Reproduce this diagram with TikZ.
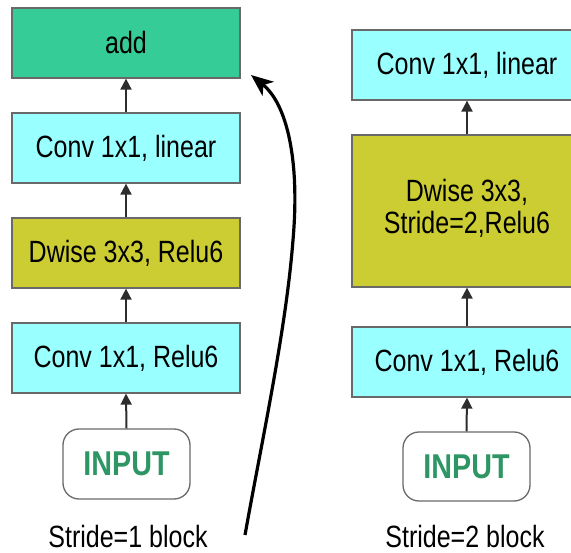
\documentclass[tikz,border=0pt]{standalone}
\usepackage{fontspec}
\usepackage{graphicx}
\setmainfont{Liberation Sans}
\usetikzlibrary{arrows.meta}
\definecolor{addgreen}{RGB}{54,204,152}
\definecolor{cyanbox}{RGB}{153,255,255}
\definecolor{olivebox}{RGB}{204,204,51}
\definecolor{inputgreen}{RGB}{46,150,100}
\definecolor{bordergrey}{RGB}{105,105,105}
\definecolor{arrowgrey}{RGB}{45,45,45}
\newcommand{\tallt}[1]{\scalebox{1}[1.23]{#1}}
\newcommand{\talli}[1]{\scalebox{1}[1.2]{#1}}
\begin{document}
\begin{tikzpicture}[x=1pt,y=-1pt,
  blk/.style={draw=bordergrey,line width=1.3pt,inner sep=0pt,align=center,
    font=\fontsize{25}{24.4}\selectfont},
  inbox/.style={draw=bordergrey,line width=1.3pt,rounded corners=16pt,fill=white,inner sep=0pt,
    font=\fontsize{28.7}{33}\selectfont\bfseries,text=inputgreen},
  lbl/.style={font=\fontsize{25}{30}\selectfont,inner sep=0pt},
  flow/.style={draw=arrowgrey,line width=2pt,-{Triangle[length=11pt,width=11pt]}},
  skip/.style={draw=black,line width=3.2pt,-{Stealth[length=22pt,width=18pt,inset=6pt]}}
]
\useasboundingbox (0,0) rectangle (571,553);
% left column
\node[blk,fill=addgreen,minimum width=228pt,minimum height=70pt] (addL) at (126,43) {\tallt{add}};
\node[blk,fill=cyanbox,minimum width=228pt,minimum height=70pt] (linL) at (126,148) {\tallt{Conv 1x1, linear}};
\node[blk,fill=olivebox,minimum width=228pt,minimum height=70pt] (dwL) at (126,253) {\tallt{Dwise 3x3, Relu6}};
\node[blk,fill=cyanbox,minimum width=228pt,minimum height=70pt] (reL) at (126,358) {\tallt{Conv 1x1, Relu6}};
\node[inbox,minimum width=127pt,minimum height=70pt] (inL) at (126.5,464) {\talli{INPUT}};
\node[lbl] (labL) at (128,537) {\tallt{Stride=1 block}};
\draw[flow] (inL.north) -- (reL.south);
\draw[flow] (reL.north) -- (dwL.south);
\draw[flow] (dwL.north) -- (linL.south);
\draw[flow] (linL.north) -- (addL.south);
% skip connection
\coordinate (skS) at (245,535);
\coordinate (skE) at (251,75);
\draw[skip] (skS) .. controls (262,440) and (286,330) .. (293,240)
  .. controls (300,160) and (287,104) .. (skE);
% right column
\node[blk,fill=cyanbox,minimum width=230pt,minimum height=70pt] (linR) at (467,65) {\tallt{Conv 1x1, linear}};
\node[blk,fill=olivebox,minimum width=230pt,minimum height=152pt] (dwR) at (467,211) {\tallt{\begin{tabular}{@{}c@{}}Dwise 3x3,\\Stride=2,Relu6\end{tabular}}};
\node[blk,fill=cyanbox,minimum width=230pt,minimum height=70pt] (reR) at (467,362) {\tallt{Conv 1x1, Relu6}};
\node[inbox,minimum width=127pt,minimum height=69pt] (inR) at (466.5,466.5) {\talli{INPUT}};
\node[lbl] (labR) at (465,537) {\tallt{Stride=2 block}};
\draw[flow] (inR.north) -- (reR.south);
\draw[flow] (reR.north) -- (dwR.south);
\draw[flow] (dwR.north) -- (linR.south);
\end{tikzpicture}
\end{document}
